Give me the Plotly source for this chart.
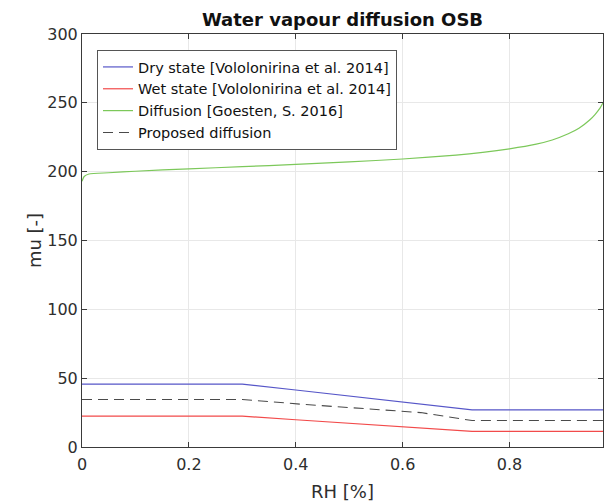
import plotly.graph_objects as go

# Relative humidity breakpoints and diffusion resistance factors (mu)
rh_dry = [0.0, 0.30, 0.40, 0.50, 0.60, 0.73, 0.975]
mu_dry = [45.7, 45.7, 41.4, 37.0, 32.6, 26.9, 26.9]

rh_wet = [0.0, 0.30, 0.40, 0.50, 0.60, 0.73, 0.975]
mu_wet = [22.4, 22.4, 19.8, 17.2, 14.7, 11.3, 11.3]

rh_goesten = [0.0, 0.004, 0.013, 0.05, 0.10, 0.20, 0.30, 0.40, 0.50, 0.60,
              0.70, 0.75, 0.80, 0.85, 0.88, 0.91, 0.93, 0.95, 0.96, 0.97, 0.975]
mu_goesten = [193.0, 196.5, 198.3, 199.2, 200.3, 202.1, 203.6, 205.3, 207.1, 209.2,
              212.0, 214.0, 216.6, 220.0, 223.0, 227.5, 231.5, 237.5, 241.5, 246.5, 250.0]

rh_proposed = [0.0, 0.30, 0.41, 0.52, 0.634, 0.73, 0.975]
mu_proposed = [34.5, 34.5, 31.1, 28.2, 25.0, 19.2, 19.2]

x_ticks = [0, 0.2, 0.4, 0.6, 0.8]
x_tick_text = ["0", "0.2", "0.4", "0.6", "0.8"]
y_ticks = [0, 50, 100, 150, 200, 250, 300]

FONT = "DejaVu Sans, Verdana, sans-serif"
AXIS_COLOR = "#3a3a3a"
TEXT_COLOR = "#2e2e2e"

fig = go.Figure()
fig.add_trace(go.Scatter(x=rh_dry, y=mu_dry, mode="lines",
                         name="Dry state [Vololonirina et al. 2014]",
                         line=dict(color="#5656c8", width=1.2)))
fig.add_trace(go.Scatter(x=rh_wet, y=mu_wet, mode="lines",
                         name="Wet state [Vololonirina et al. 2014]",
                         line=dict(color="#f24a4a", width=1.2)))
fig.add_trace(go.Scatter(x=rh_goesten, y=mu_goesten, mode="lines",
                         name="Diffusion [Goesten, S. 2016]",
                         line=dict(color="#7cc85a", width=1.2, shape="spline", smoothing=0.6)))
fig.add_trace(go.Scatter(x=rh_proposed, y=mu_proposed, mode="lines",
                         name="Proposed diffusion",
                         line=dict(color="#4a4a4a", width=1.1, dash="10px,6px")))

axis_common = dict(
    showline=True, linecolor=AXIS_COLOR, linewidth=1, mirror="ticks",
    ticks="inside", ticklen=5, tickcolor=AXIS_COLOR,
    showgrid=True, gridcolor="#e8e8e8", gridwidth=1,
    zeroline=False,
    tickfont=dict(family=FONT, size=16, color=TEXT_COLOR),
)

fig.update_layout(
    width=605, height=503,
    margin=dict(l=82, r=2, t=34, b=56),
    paper_bgcolor="white", plot_bgcolor="white",
    title=dict(text="<b>Water vapour diffusion OSB</b>", x=(82 + 603) / 2 / 605,
               xanchor="center", y=1 - 19.5 / 503, yanchor="middle",
               font=dict(family=FONT, size=18, color="#111111")),
    xaxis=dict(range=[0, 0.975], tickvals=x_ticks, ticktext=x_tick_text,
               ticklabelstandoff=3,
               title=dict(text="RH [%]", font=dict(family=FONT, size=18, color=TEXT_COLOR),
                          standoff=12),
               **axis_common),
    yaxis=dict(range=[0, 300], tickvals=y_ticks,
               title=dict(text="mu [-]", font=dict(family=FONT, size=18, color=TEXT_COLOR),
                          standoff=0),
               **axis_common),
    legend=dict(x=(97 - 82) / 521, y=(447 - 50) / 413, xanchor="left", yanchor="top",
                bgcolor="white", bordercolor="#555555", borderwidth=1,
                font=dict(family=FONT, size=14.5, color="#111111"),
                tracegroupgap=0, itemwidth=30),
    showlegend=True,
)

fig.write_html("out.html")
